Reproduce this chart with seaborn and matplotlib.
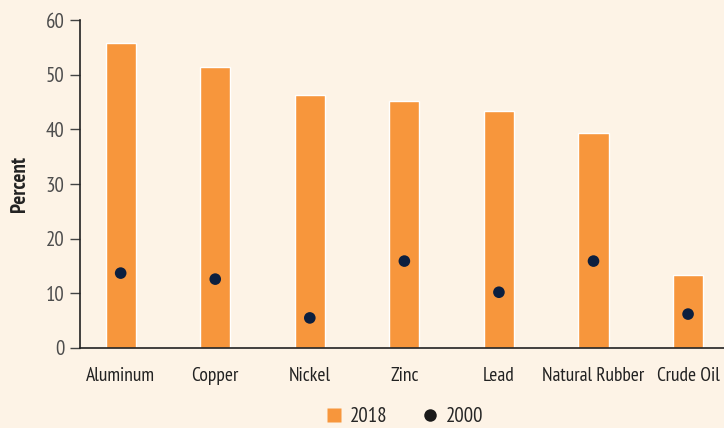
import numpy as np
import pandas as pd
import matplotlib.pyplot as plt
import seaborn as sns
from matplotlib.lines import Line2D

# Données
commodities = ['Aluminum', 'Copper', 'Nickel', 'Zinc', 'Lead', 'Natural Rubber', 'Crude Oil']
share_2018 = [55.8, 51.4, 46.3, 45.2, 43.4, 39.3, 13.4]
share_2000 = [13.7, 12.6, 5.5, 15.9, 10.2, 15.9, 6.2]

df = pd.DataFrame({'commodity': commodities, 'y2018': share_2018, 'y2000': share_2000})

BG = '#fdf3e6'
ORANGE = '#f7963c'
NAVY = '#0c1f3f'

sns.set_theme(style='white')
plt.rcParams['font.family'] = ['PT Sans Narrow', 'DejaVu Sans']

fig = plt.figure(figsize=(7.24, 4.28), dpi=100, facecolor=BG)
ax = fig.add_axes([0.1105, 0.187, 0.8895, 0.766])
ax.set_facecolor(BG)

sns.barplot(data=df, x='commodity', y='y2018', color=ORANGE, width=0.32,
            saturation=1, ax=ax)
sns.scatterplot(x=np.arange(len(commodities)), y=df['y2000'], color=NAVY,
                s=70, edgecolor='none', ax=ax, zorder=3)

ax.set_xlim(-0.43, 6.38)
ax.set_ylim(0, 60)
ax.set_yticks([0, 10, 20, 30, 40, 50, 60])
ax.tick_params(axis='y', left=True, length=7, width=1, color='#444444',
               labelsize=15, labelcolor='#4d4d4d', pad=4)
ax.tick_params(axis='x', bottom=False, labelsize=14, labelcolor='#222222', pad=8)
ax.set_xlabel('')
ax.set_ylabel('Percent', fontsize=15, fontweight='bold', color='#222222', labelpad=12)

for s in ['top', 'right']:
    ax.spines[s].set_visible(False)
ax.spines['left'].set_color('#222222')
ax.spines['bottom'].set_color('#222222')
ax.spines['left'].set_linewidth(1.2)
ax.spines['bottom'].set_linewidth(1.2)

handles = [Line2D([0], [0], marker='s', color='none', markerfacecolor=ORANGE,
                  markeredgecolor='none', markersize=10, label='2018'),
           Line2D([0], [0], marker='o', color='none', markerfacecolor='#1a1a1a',
                  markeredgecolor='none', markersize=9, label='2000')]
fig.legend(handles=handles, loc='center', bbox_to_anchor=(0.558, 0.027), ncol=2,
           frameon=False, fontsize=15, handletextpad=0.3, columnspacing=1.6,
           handlelength=0.9)

plt.savefig('out.png', dpi=100, facecolor=BG)
